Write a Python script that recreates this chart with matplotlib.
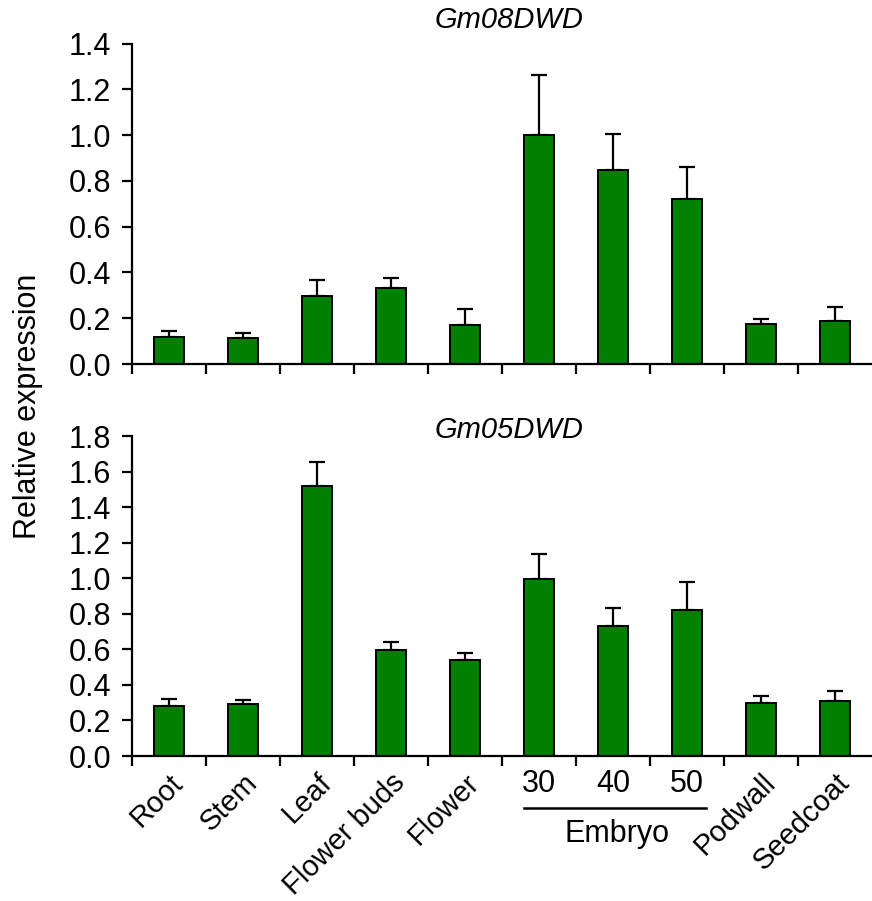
import matplotlib
matplotlib.use("Agg")
from matplotlib import pyplot as plt
import numpy as np

plt.rcParams['font.family'] = ['Liberation Sans', 'DejaVu Sans']

tissues = ["Root", "Stem", "Leaf", "Flower buds", "Flower", "30", "40", "50", "Podwall", "Seedcoat"]

gm08_mean = [0.119, 0.115, 0.295, 0.330, 0.169, 1.000, 0.846, 0.720, 0.174, 0.189]
gm08_err = [0.026, 0.019, 0.071, 0.045, 0.071, 0.262, 0.160, 0.142, 0.022, 0.060]

gm05_mean = [0.283, 0.292, 1.517, 0.599, 0.539, 0.997, 0.733, 0.822, 0.296, 0.311]
gm05_err = [0.039, 0.025, 0.134, 0.040, 0.043, 0.141, 0.102, 0.156, 0.039, 0.056]

W, H = 872, 901
fig = plt.figure(figsize=(W / 100, H / 100), dpi=100)

left = 132 / W
width = 1.0 - left
ax1 = fig.add_axes([left, 1 - 364 / H, width, 320.5 / H])
ax2 = fig.add_axes([left, 1 - 756 / H, width, 320 / H])

x = np.arange(len(tissues))
green = "#008000"


def draw(ax, mean, err, ymax, title, title_y):
    ax.bar(x, mean, width=0.41, color=green, edgecolor="black", linewidth=1.4, zorder=2)
    ax.errorbar(x, mean, yerr=[np.zeros(len(err)), err], fmt="none", ecolor="black",
                elinewidth=1.6, capsize=6, capthick=1.6, zorder=1)
    ax.set_xlim(-0.5, 9.5)
    ax.set_ylim(0, ymax)
    ax.set_yticks(np.arange(0, ymax + 0.01, 0.2))
    ax.set_yticklabels(["%.1f" % v for v in np.arange(0, ymax + 0.01, 0.2)])
    ax.set_xticks(np.arange(-0.5, 9, 1.0))
    ax.set_xticklabels([])
    for s in ["top", "right"]:
        ax.spines[s].set_visible(False)
    for s in ["left", "bottom"]:
        ax.spines[s].set_linewidth(1.6)
    ax.tick_params(axis="both", which="major", direction="out", length=7, width=1.6,
                   labelsize=22, pad=8)
    ax.text(0.51, title_y, title, transform=ax.transAxes, ha="center", va="center",
            fontsize=21, style="italic")


draw(ax1, gm08_mean, gm08_err, 1.4, "Gm08DWD", 1.073)
draw(ax2, gm05_mean, gm05_err, 1.8, "Gm05DWD", 1.019)

# category labels under the lower panel
ax2.set_xticks(x, tissues, minor=True)
ax2.tick_params(axis="x", which="minor", length=0, labelsize=21, pad=9)
for i, lab in enumerate(ax2.get_xticklabels(minor=True)):
    if tissues[i] in ("30", "40", "50"):
        lab.set_rotation(0)
        lab.set_ha("center")
        lab.set_va("top")
        lab.set_fontsize(22)
    else:
        lab.set_rotation(45)
        lab.set_ha("right")
        lab.set_va("top")
        lab.set_rotation_mode("anchor")

# Embryo bracket
trans = ax2.get_xaxis_transform()
ax2.plot([4.8, 7.26], [-0.1625, -0.1625], color="black", linewidth=1.8,
         transform=trans, clip_on=False)
ax2.text(6.05, -0.197, "Embryo", transform=trans, ha="center", va="top", fontsize=22)

fig.text(28 / W, 1 - 406 / H, "Relative expression", rotation=90, ha="center",
         va="center", fontsize=22)

fig.savefig("out.png", dpi=100)
